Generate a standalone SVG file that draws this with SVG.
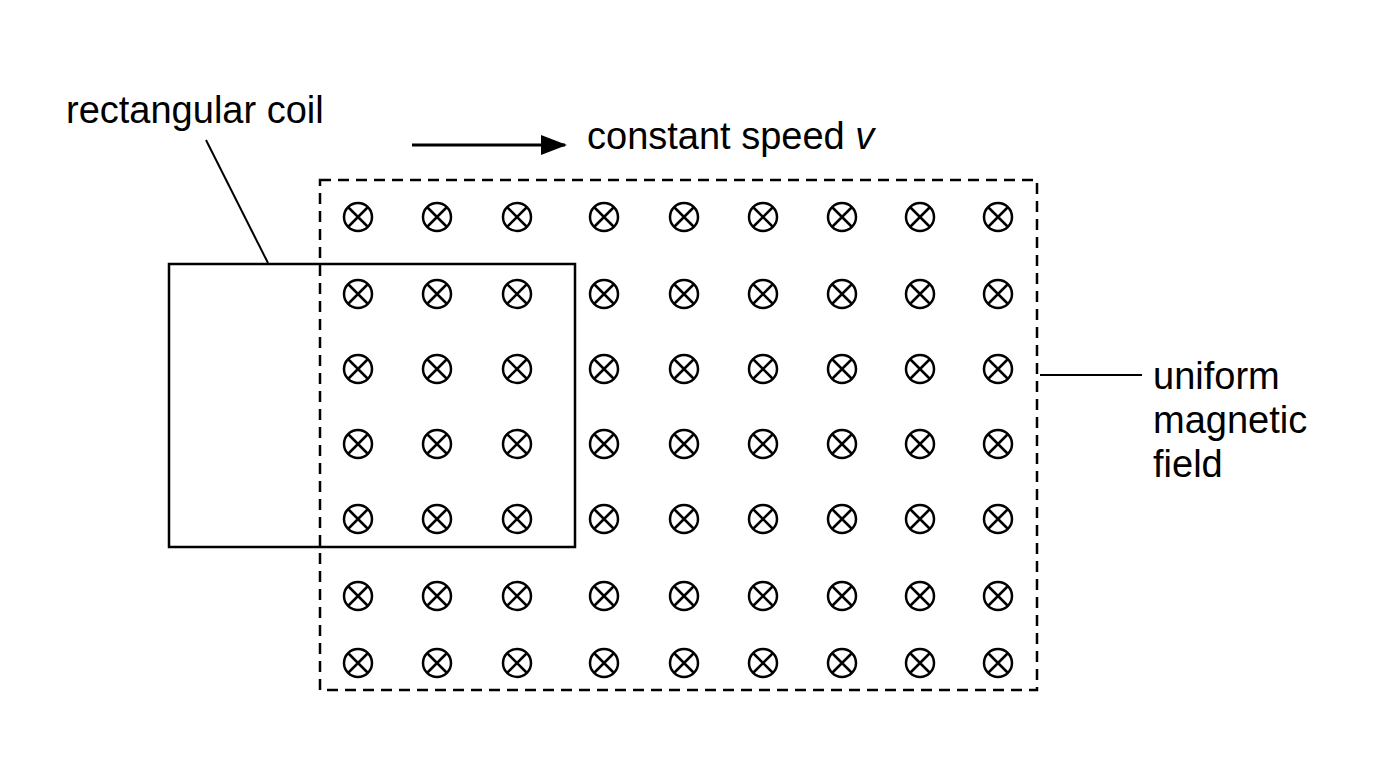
<svg xmlns="http://www.w3.org/2000/svg" xmlns:xlink="http://www.w3.org/1999/xlink" width="1376" height="768" viewBox="0 0 1376 768">
<style>
text{font-family:"Liberation Sans",Arial,sans-serif;font-size:38px;fill:#000}
.l{stroke:#000;stroke-width:2.5;fill:none}
</style>
<defs>
<g id="x"><circle r="14" class="l"/><path d="M-10,-10L10,10M-10,10L10,-10" class="l"/></g>
<marker id="a" viewBox="0 0 26 20" refX="24" refY="10" markerWidth="26" markerHeight="20" markerUnits="userSpaceOnUse" orient="auto"><path d="M0,0L26,10L0,20z"/></marker>
</defs>
<rect width="1376" height="768" fill="#fff"/>
<g id="field">
<rect x="320" y="180" width="717" height="510" class="l" stroke-dasharray="11 7"/>
<g id="symbols">
<use xlink:href="#x" x="358" y="217"/><use xlink:href="#x" x="437" y="217"/><use xlink:href="#x" x="517" y="217"/><use xlink:href="#x" x="604" y="217"/><use xlink:href="#x" x="684" y="217"/><use xlink:href="#x" x="763" y="217"/><use xlink:href="#x" x="842" y="217"/><use xlink:href="#x" x="920" y="217"/><use xlink:href="#x" x="998" y="217"/>
<use xlink:href="#x" x="358" y="294"/><use xlink:href="#x" x="437" y="294"/><use xlink:href="#x" x="517" y="294"/><use xlink:href="#x" x="604" y="294"/><use xlink:href="#x" x="684" y="294"/><use xlink:href="#x" x="763" y="294"/><use xlink:href="#x" x="842" y="294"/><use xlink:href="#x" x="920" y="294"/><use xlink:href="#x" x="998" y="294"/>
<use xlink:href="#x" x="358" y="369"/><use xlink:href="#x" x="437" y="369"/><use xlink:href="#x" x="517" y="369"/><use xlink:href="#x" x="604" y="369"/><use xlink:href="#x" x="684" y="369"/><use xlink:href="#x" x="763" y="369"/><use xlink:href="#x" x="842" y="369"/><use xlink:href="#x" x="920" y="369"/><use xlink:href="#x" x="998" y="369"/>
<use xlink:href="#x" x="358" y="444"/><use xlink:href="#x" x="437" y="444"/><use xlink:href="#x" x="517" y="444"/><use xlink:href="#x" x="604" y="444"/><use xlink:href="#x" x="684" y="444"/><use xlink:href="#x" x="763" y="444"/><use xlink:href="#x" x="842" y="444"/><use xlink:href="#x" x="920" y="444"/><use xlink:href="#x" x="998" y="444"/>
<use xlink:href="#x" x="358" y="519"/><use xlink:href="#x" x="437" y="519"/><use xlink:href="#x" x="517" y="519"/><use xlink:href="#x" x="604" y="519"/><use xlink:href="#x" x="684" y="519"/><use xlink:href="#x" x="763" y="519"/><use xlink:href="#x" x="842" y="519"/><use xlink:href="#x" x="920" y="519"/><use xlink:href="#x" x="998" y="519"/>
<use xlink:href="#x" x="358" y="596"/><use xlink:href="#x" x="437" y="596"/><use xlink:href="#x" x="517" y="596"/><use xlink:href="#x" x="604" y="596"/><use xlink:href="#x" x="684" y="596"/><use xlink:href="#x" x="763" y="596"/><use xlink:href="#x" x="842" y="596"/><use xlink:href="#x" x="920" y="596"/><use xlink:href="#x" x="998" y="596"/>
<use xlink:href="#x" x="358" y="663"/><use xlink:href="#x" x="437" y="663"/><use xlink:href="#x" x="517" y="663"/><use xlink:href="#x" x="604" y="663"/><use xlink:href="#x" x="684" y="663"/><use xlink:href="#x" x="763" y="663"/><use xlink:href="#x" x="842" y="663"/><use xlink:href="#x" x="920" y="663"/><use xlink:href="#x" x="998" y="663"/>
</g>
</g>
<g id="coil"><rect x="169" y="264" width="406" height="283" class="l" stroke-width="3"/></g>
<g id="connectors">
<line x1="206" y1="140" x2="268" y2="263" stroke="#000" stroke-width="2"/>
<line x1="1040" y1="375" x2="1142" y2="375" stroke="#000" stroke-width="2"/>
<line x1="412" y1="145" x2="565" y2="145" stroke="#000" stroke-width="3" marker-end="url(#a)"/>
</g>
<g id="labels">
<text x="66" y="123">rectangular coil</text>
<text x="587" y="149">constant speed <tspan font-style="italic">v</tspan></text>
<text x="1153" y="389">uniform</text>
<text x="1153" y="433">magnetic</text>
<text x="1153" y="477">field</text>
</g>
</svg>
